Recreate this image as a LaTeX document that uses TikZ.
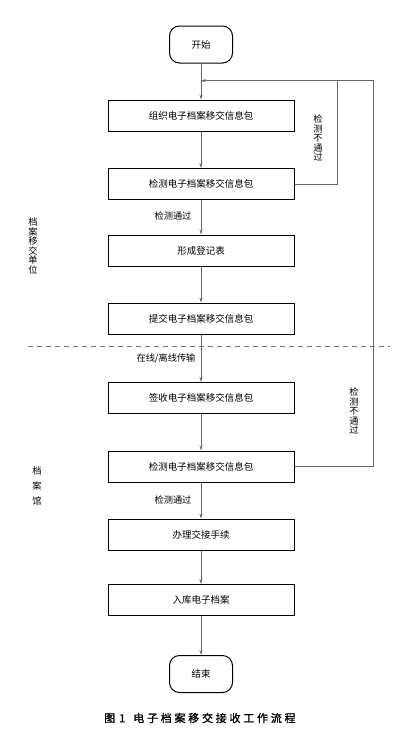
\documentclass[tikz,border=0pt]{standalone}
\usepackage{fontspec}
\newfontfamily\cjk{Noto Sans CJK SC}
\newfontfamily\capfont[FakeBold=1.2,LetterSpace=25]{Noto Sans CJK SC}
\usetikzlibrary{arrows.meta}
\tikzset{
  proc/.style={draw, line width=1pt, minimum width=186pt, minimum height=31pt, inner sep=0pt},
  term/.style={draw, line width=1pt, rounded corners=10pt, minimum width=63pt, minimum height=37pt, inner sep=0pt},
  conn/.style={draw=black!60, line width=0.6pt},
  arr/.style={conn, -{Stealth[length=5pt,width=3.2pt]}},
  lbl/.style={inner sep=0pt, font=\cjk\fontsize{9.2}{9.6}\selectfont, align=center},
}
\begin{document}
\begin{tikzpicture}[x=1pt,y=-1pt, font=\cjk\fontsize{9.5}{11}\selectfont]
\useasboundingbox[fill=white] (0,0) rectangle (406,734);
% nodes
\node[term] (start) at (201,44.5) {开始};
\node[proc] (b1) at (201,115.5) {组织电子档案移交信息包};
\node[proc] (b2) at (201,184) {检测电子档案移交信息包};
\node[proc] (b3) at (201,250.5) {形成登记表};
\node[proc] (b4) at (201,318.5) {提交电子档案移交信息包};
\node[proc] (b5) at (201,398) {签收电子档案移交信息包};
\node[proc] (b6) at (201,466.5) {检测电子档案移交信息包};
\node[proc] (b7) at (201,534.5) {办理交接手续};
\node[proc] (b8) at (201,600) {入库电子档案};
\node[term] (end) at (201,674) {结束};
% coordinates
\coordinate (j) at (201,80.7);
\coordinate (in1) at (337,80.7);
\coordinate (out1) at (373,80.7);
\coordinate (dl) at (28,346);
\coordinate (dr) at (390,346);
% main flow
\draw[arr] (start) -- (b1);
\draw[arr] (b1) -- (b2);
\draw[arr] (b2) -- (b3);
\draw[arr] (b3) -- (b4);
\draw[arr] (b4) -- (b5);
\draw[arr] (b5) -- (b6);
\draw[arr] (b6) -- (b7);
\draw[arr] (b7) -- (b8);
\draw[arr] (b8) -- (end);
% feedback loops
\draw[conn] (b2.east) -| (in1);
\draw[arr] (b6.east) -| (out1) -- (j);
% dashed separator
\draw[draw=black!55, line width=0.8pt, dash pattern=on 5pt off 4pt] (dl) -- (dr);
% labels
\node[lbl] (l1) at (173,216) {检测通过};
\node[lbl] (l2) at (166,358) {在线/离线传输};
\node[lbl] (l3) at (173,500) {检测通过};
\node[lbl] (f1) at (318,138) {检\\测\\不\\通\\过};
\node[lbl] (f2) at (354,411) {检\\测\\不\\通\\过};
\node[lbl] (s1) at (33,246) {档\\案\\移\\交\\单\\位};
\node[lbl, font=\cjk\fontsize{9.2}{15}\selectfont] (s2) at (37,486) {档\\案\\馆};
% caption
\node[anchor=west, inner sep=0pt, font=\capfont\fontsize{11}{13}\selectfont] (cap) at (104,718) {图\hspace{4pt}1\hspace{8pt}电子档案移交接收工作流程};
\end{tikzpicture}
\end{document}
